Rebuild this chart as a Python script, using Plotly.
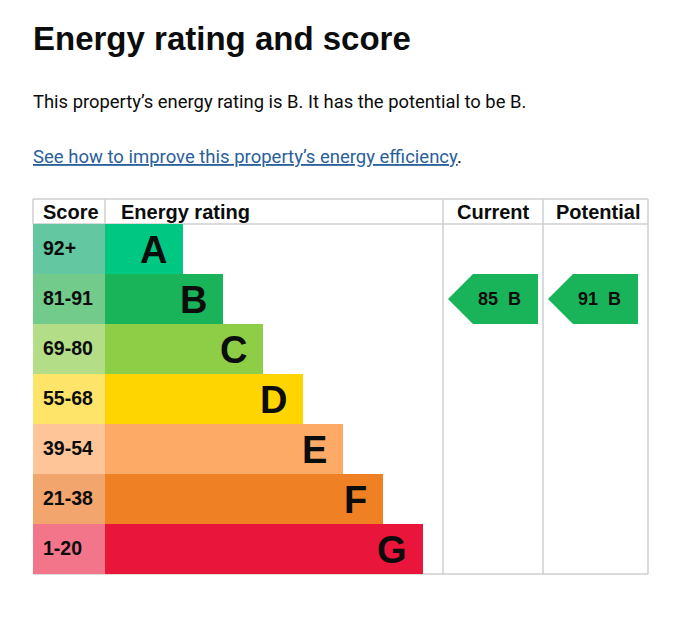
import plotly.graph_objects as go

# data
ratings = ['A', 'B', 'C', 'D', 'E', 'F', 'G']
score_ranges = ['92+', '81-91', '69-80', '55-68', '39-54', '21-38', '1-20']
band_floor = [92, 81, 69, 55, 39, 21, 1]
current_score = 85
potential_score = 91

bar_colors = ['#00c781', '#19b459', '#8dce46', '#ffd500', '#fcaa65', '#ef8023', '#e9153b']
score_colors = ['#63c7a2', '#72cb8b', '#b4dd87', '#ffe46a', '#fdc598', '#f2a56c', '#f27589']

W, H = 697, 618
GRID = '#cfcfcf'
ARIAL = 'Liberation Sans, Arial, sans-serif'
BODY = 'Roboto, sans-serif'

# table geometry (pixels)
left, right = 33, 648
col_rating, col_current, col_potential = 105, 443, 543
top, head_bottom, row_h = 199, 224, 50
bottom = head_bottom + row_h * len(ratings)
row_mid = [head_bottom + row_h * (i + 0.5) for i in range(len(ratings))]
bar_len = [78 + 40 * i for i in range(len(ratings))]


def band_of(score):
    for i, f in enumerate(band_floor):
        if score >= f:
            return i
    return len(band_floor) - 1


fig = go.Figure()

fig.add_trace(go.Bar(
    y=row_mid, x=[col_rating - left] * len(ratings), base=left, orientation='h',
    width=row_h, marker=dict(color=score_colors, line=dict(width=0)),
    hoverinfo='skip', showlegend=False))
fig.add_trace(go.Bar(
    y=row_mid, x=bar_len, base=col_rating, orientation='h',
    width=row_h, marker=dict(color=bar_colors, line=dict(width=0)),
    hoverinfo='skip', showlegend=False))

# score labels and letters
for i in range(len(ratings)):
    fig.add_annotation(x=41, y=row_mid[i] - 1, text='<b>%s</b>' % score_ranges[i],
                       xanchor='left', yanchor='middle', showarrow=False,
                       font=dict(family=ARIAL, size=19.5, color='#0b0c0c'))
    fig.add_annotation(x=col_rating + bar_len[i] - 14, y=row_mid[i] + 1, text='<b>%s</b>' % ratings[i],
                       xanchor='right', yanchor='middle', showarrow=False,
                       font=dict(family=ARIAL, size=38, color='#0b0c0c'))

# current / potential arrows
for score, x0 in [(current_score, col_current), (potential_score, col_potential)]:
    b = band_of(score)
    yc = row_mid[b]
    xs = [x0 + 5, x0 + 30, x0 + 95, x0 + 95, x0 + 30, x0 + 5]
    ys = [yc, yc - row_h / 2, yc - row_h / 2, yc + row_h / 2, yc + row_h / 2, yc]
    fig.add_trace(go.Scatter(x=xs, y=ys, fill='toself', mode='lines',
                             fillcolor=bar_colors[b], line=dict(width=0, color=bar_colors[b]),
                             hoverinfo='skip', showlegend=False))
    fig.add_annotation(x=x0 + 56, y=yc, text='<b>%d  %s</b>' % (score, ratings[b]),
                       xanchor='center', yanchor='middle', showarrow=False,
                       font=dict(family=ARIAL, size=18, color='#0b0c0c'))

# headers
for txt, x, anchor in [('Score', 41, 'left'), ('Energy rating', 119, 'left'),
                       ('Current', 493, 'center'), ('Potential', 598, 'center')]:
    fig.add_annotation(x=x, y=(top + head_bottom) / 2, text='<b>%s</b>' % txt,
                       xanchor=anchor, yanchor='middle', showarrow=False,
                       font=dict(family=ARIAL, size=20, color='#0b0c0c'))

# grid lines
lines = [
    (left, top, right, top), (left, head_bottom, right, head_bottom), (left, bottom, right, bottom),
    (left, top, left, head_bottom), (col_rating, top, col_rating, head_bottom),
    (col_current, top, col_current, bottom), (col_potential, top, col_potential, bottom),
    (right, top, right, bottom),
]
for x0, y0, x1, y1 in lines:
    fig.add_shape(type='line', x0=x0, y0=y0, x1=x1, y1=y1, layer='below',
                  line=dict(color=GRID, width=1.5))

# page text
fig.add_annotation(x=31, y=38, text='<b>Energy rating and score</b>', xanchor='left', yanchor='middle',
                   showarrow=False, font=dict(family=ARIAL, size=33, color='#0b0c0c'))
fig.add_annotation(x=31, y=101, text='This property’s energy rating is B. It has the potential to be B.',
                   xanchor='left', yanchor='middle', showarrow=False,
                   font=dict(family=BODY, size=18.4, color='#0b0c0c'))
fig.add_annotation(x=31, y=157, text='See how to improve this property’s energy efficiency',
                   xanchor='left', yanchor='middle', showarrow=False,
                   font=dict(family=BODY, size=18.5, color='#2a609c', lineposition='under'))
fig.add_annotation(x=455, y=157, text='.', xanchor='left', yanchor='middle', showarrow=False,
                   font=dict(family=BODY, size=18.5, color='#0b0c0c'))
fig.add_annotation(x=31, y=623, text='The graph shows this property’s current and potential energy rating.',
                   xanchor='left', yanchor='middle', showarrow=False,
                   font=dict(family=BODY, size=18.4, color='#0b0c0c'))

fig.update_layout(
    width=W, height=H, margin=dict(l=0, r=0, t=0, b=0),
    plot_bgcolor='white', paper_bgcolor='white', barmode='overlay',
    xaxis=dict(range=[0, W], visible=False, fixedrange=True),
    yaxis=dict(range=[H, 0], visible=False, fixedrange=True),
)

fig.write_html('out.html', config={'displayModeBar': False},
               post_script="document.body.style.margin='0';")
